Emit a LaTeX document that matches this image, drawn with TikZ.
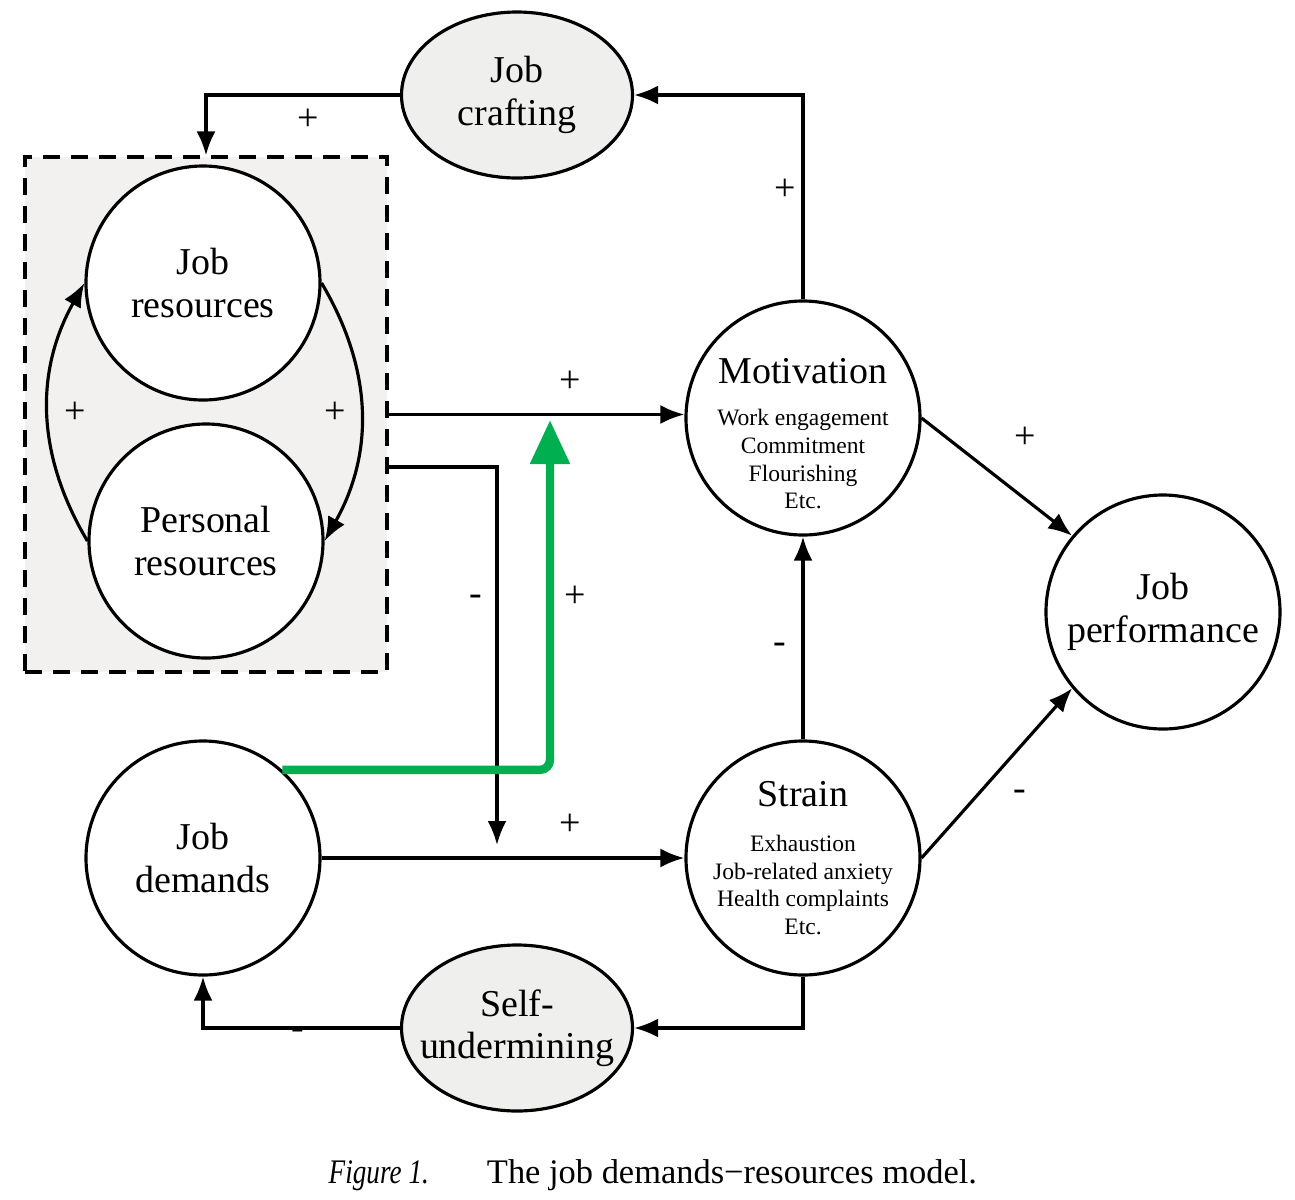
\documentclass[tikz,border=0pt]{standalone}
\usepackage{fontspec}
\setmainfont{Liberation Serif}
\usetikzlibrary{shapes, arrows, arrows.meta, calc, positioning}
\definecolor{boxgray}{HTML}{F2F1F0}
\definecolor{ovalgray}{HTML}{EFEFEE}
\definecolor{jdgreen}{HTML}{00B050}
\newcommand{\itemfont}{\fontsize{6.7}{7.9}\selectfont}
\newcommand{\headfont}{\fontsize{10.8}{13}\selectfont}
\tikzstyle{line} = [draw, -{Latex[length=2.4mm,width=1.9mm]}, line width=0.9pt]
\tikzstyle{greenline} = [draw, jdgreen, line width=2.4pt, rounded corners=1mm, -{Triangle[length=4.4mm,width=3.8mm]}]
\tikzstyle{circ} = [circle, draw, fill=white, line width=0.9pt, minimum size=2.34cm, inner sep=0pt, align=center, font=\fontsize{10.8}{12.4}\selectfont]
\tikzstyle{inside} = [align=center, font=\itemfont, inner sep=0pt]
\tikzstyle{oval} = [ellipse, draw, fill=ovalgray, line width=0.9pt, minimum width=2.31cm, minimum height=1.66cm, inner sep=0pt, align=center, font=\fontsize{10.8}{12}\selectfont]
\tikzstyle{group} = [rectangle, draw, dash pattern=on 1.7mm off 1.1mm, fill=boxgray, line width=0.9pt, minimum width=3.62cm, minimum height=5.15cm]
\tikzstyle{sign} = [font=\fontsize{10.8}{12}\selectfont, inner sep=0pt]
\begin{document}
\begin{tikzpicture}
\useasboundingbox (0,0) rectangle (12.95,-12);
% resources box
\node [group] (resbox) at (2.06,-4.145) {};
\node [circ] (jobres) at (2.03,-2.83) {Job\\resources};
\node [circ] (persres) at (2.06,-5.41) {Personal\\resources};
% outer nodes
\node [oval] (craft) at (5.17,-0.95) {\makebox[1.2cm]{Job}\\\makebox[1.2cm]{crafting}};
\node [oval] (undermine) at (5.17,-10.28) {\makebox[1.2cm]{Self-}\\\makebox[1.2cm]{undermining}};
\node [circ] (demands) at (2.03,-8.58) {Job\\demands};
\node [circ, label={[inside, yshift=-1.6mm]center:{{\headfont Motivation}\\[4pt]Work engagement\\Commitment\\Flourishing\\Etc.}}] (motiv) at (8.03,-4.18) {};
\node [circ, label={[inside]center:{{\headfont Strain}\\[5pt]Exhaustion\\Job-related anxiety\\Health complaints\\Etc.}}] (strain) at (8.03,-8.58) {};
\node [circ] (perf) at (11.63,-6.12) {Job\\performance};
% free ends
\coordinate (dipstart) at (3.87,-4.67);
\coordinate (dipend) at (4.97,-8.45);
\coordinate (gtip) at (5.50,-4.20);
% connectors
\path [line] (craft.west) -| (resbox.north);
\path [line] (motiv.north) |- (craft.east);
\path [line] (jobres.east) to[bend left=30] (persres.east);
\path [line] (persres.west) to[bend left=30] (jobres.west);
\path [line] (resbox.east) -- (resbox.east -| motiv.west);
\path [line] (dipstart) -| (dipend);
\path [line] (demands.east) -- (strain.west);
\path [line] (strain.north) -- (motiv.south);
\path [line] (motiv.east) -- (perf.140);
\path [line] (strain.east) -- (perf.220);
\path [line] (strain.south) |- (undermine.east);
\path [line] (undermine.west) -| (demands.south);
\path [greenline] (demands.48) -| (gtip);
% signs
\node [sign] at (3.08,-1.20) {+};
\node [sign] at (7.85,-1.90) {+};
\node [sign] at (0.75,-4.13) {+};
\node [sign] at (3.35,-4.13) {+};
\node [sign] at (5.70,-3.82) {+};
\node [sign] at (4.76,-6.00) {-};
\node [sign] at (5.75,-5.97) {+};
\node [sign] at (7.80,-6.48) {-};
\node [sign] at (10.25,-4.38) {+};
\node [sign] at (10.20,-7.95) {-};
\node [sign] at (5.70,-8.25) {+};
\node [sign] at (2.98,-10.34) {-};
% caption
\node [anchor=west, font=\fontsize{9.8}{12}\selectfont, inner sep=0pt] (caption) at (3.28,-11.75) {\scalebox{0.79}[1]{\textit{Figure 1.}}\hspace{5.8mm}The job demands−resources model.};
\end{tikzpicture}
\end{document}
